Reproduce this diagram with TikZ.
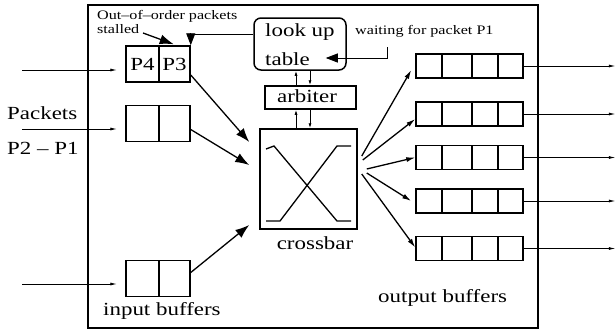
\documentclass[tikz,border=0pt]{standalone}
\usepackage{fontspec}
\setmainfont{Liberation Serif}[FakeStretch=1.24]
\usetikzlibrary{arrows.meta,calc}
\newcommand\lbltxt{\fontsize{18.5}{20}\selectfont}
\newcommand\notetxt{\fontsize{13}{14}\selectfont}

\begin{document}
\begin{tikzpicture}[x=1pt,y=-1pt,
  box/.style={draw, line width=1.5pt, inner sep=0pt},
  inbuf/.style={box, minimum width=64pt, minimum height=36pt,
    path picture={\draw[line width=1.5pt]
      ([xshift=33pt]path picture bounding box.north west) --
      ([xshift=33pt]path picture bounding box.south west);}},
  outbuf/.style={box, minimum width=107pt, minimum height=24pt,
    path picture={\foreach \d in {26,56,82}
      \draw[line width=1.3pt]
      ([xshift=\d pt]path picture bounding box.north west) --
      ([xshift=\d pt]path picture bounding box.south west);}},
  lbl/.style={inner sep=0pt, font=\lbltxt},
  note/.style={inner sep=0pt, font=\notetxt, anchor=west},
  thinarrow/.style={line width=0.9pt, -{Latex[length=7pt,width=3pt]}},
  fatarrow/.style={line width=1.3pt, -{Latex[length=14pt,width=10pt]}},
  fanarrow/.style={line width=1.3pt, -{Latex[length=9pt,width=5pt]}},
  linkarrow/.style={line width=0.9pt, -{Latex[length=5pt,width=3pt]}},
  signal/.style={line width=0.9pt, -{Triangle[length=12pt,width=9pt]}},
]
\useasboundingbox (0,0) rectangle (616,335);

% router boundary
\draw[line width=1.5pt] (88,5) rectangle (538,328);

% input buffers
\node[inbuf] (ib1) at (158,64) {};
\node[inbuf] (ib2) at (158,123.5) {};
\node[inbuf] (ib3) at (158,278.5) {};
\node[lbl] (p4) at (142.5,64) {P4};
\node[lbl] (p3) at (174.5,64) {P3};
\node[lbl, anchor=west] (inlbl) at (103,311) {input buffers};

% incoming links
\coordinate (src1) at (22,70);
\coordinate (src2) at (22,129);
\coordinate (src3) at (22,284);
\draw[thinarrow] (src1) -- ($(ib1.west)+(-8,6)$);
\draw[thinarrow] (src2) -- ($(ib2.west)+(-8,5.5)$);
\draw[thinarrow] (src3) -- ($(ib3.west)+(-8,5.5)$);
\node[lbl, anchor=west] (pk) at (7,113) {Packets};
\node[lbl, anchor=west] (pn) at (7,148) {P2 -- P1};

% crossbar
\node[box, minimum width=97pt, minimum height=100pt] (xbar) at (308.5,179) {};
\draw[line width=1.3pt] (266,149) -- (274,146) -- (337,221) -- (351,221);
\draw[line width=1.3pt] (266,221) -- (280,221) -- (337,146) -- (351,146);
\node[lbl] (xlbl) at (315,243) {crossbar};

% arbiter and look up table
\node[box, minimum width=91pt, minimum height=23pt] (arb) at (310.5,97.5) {};
\node[lbl] (arbtxt) at (307,96) {arbiter};
\node[box, rounded corners=7pt, minimum width=92pt, minimum height=52pt] (lut) at (300,44) {};
\node[lbl, anchor=west] (lut1) at (265,32) {look up};
\node[lbl, anchor=west] (lut2) at (265,59) {table};

\draw[linkarrow] ($(arb.north)+(-14.5,0)$) -- ($(lut.south)+(-4,0)$);
\draw[linkarrow] ($(lut.south)+(10,0)$) -- ($(arb.north)+(-0.5,0)$);
\draw[linkarrow] ($(xbar.north)+(-12.5,0)$) -- ($(arb.south)+(-14.5,0)$);
\draw[linkarrow] ($(arb.south)+(-0.5,0)$) -- ($(xbar.north)+(1.5,0)$);

% stall and wait signals
\draw[signal] ($(lut.west)+(0,-10)$) -| (ib1.north east);
\coordinate (wt) at (387,47);
\draw[signal] (wt) |- ($(lut.east)+(-21,14)$);
\node[note] (ooo) at (97,16) {Out--of--order packets};
\node[note] (stl) at (97,29) {stalled};
\coordinate (stlend) at (143,33);
\draw[fatarrow] (stlend) -- ($(ib1.north east)+(-17,-1)$);
\node[note] (wait) at (355,31) {waiting for packet P1};

% input buffers to crossbar
\draw[fatarrow] ($(ib1.east)+(0,11)$) -- ($(xbar.west)+(-10,-37)$);
\draw[fatarrow] ($(ib2.east)+(0,6)$) -- ($(xbar.west)+(-10,-14)$);
\draw[fatarrow] ($(ib3.east)+(0,-6)$) -- ($(xbar.west)+(-10,46)$);

% output buffers
\node[outbuf] (ob1) at (469.5,66) {};
\node[outbuf] (ob2) at (469.5,114) {};
\node[outbuf] (ob3) at (469.5,157.5) {};
\node[outbuf] (ob4) at (469.5,201) {};
\node[outbuf] (ob5) at (469.5,248.5) {};
\node[lbl, anchor=west] (outlbl) at (378,298) {output buffers};

% crossbar to output buffers
\draw[fanarrow] ($(xbar.east)+(4,-23)$) -- ($(ob1.west)+(-4,4)$);
\draw[fanarrow] ($(xbar.east)+(5,-19)$) -- ($(ob2.west)+(0,5)$);
\draw[fanarrow] ($(xbar.east)+(9,-10)$) -- (ob3.west);
\draw[fanarrow] ($(xbar.east)+(9,-6)$) -- ($(ob4.west)+(-4,0)$);
\draw[fanarrow] ($(xbar.east)+(4,-5)$) -- ($(ob5.west)+(0,-1)$);

% outgoing links
\foreach \i in {1,...,5} {
  \coordinate (dst\i) at ($(ob\i.east)+(92,0)$);
  \draw[thinarrow] (ob\i.east) -- (dst\i);
}
\end{tikzpicture}
\end{document}
